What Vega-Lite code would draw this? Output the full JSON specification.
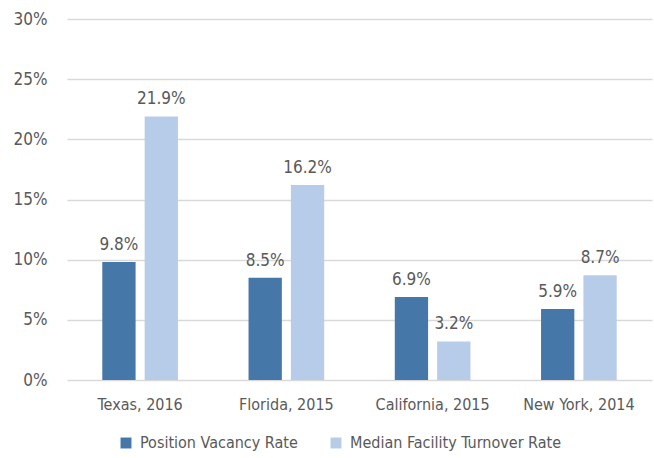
{
  "$schema": "https://vega.github.io/schema/vega-lite/v6.json",
  "width": 585,
  "height": 361,
  "autosize": "none",
  "padding": {"left": 67, "top": 19, "right": 2, "bottom": 78},
  "background": "white",
  "config": {
    "view": {"stroke": null},
    "font": "DejaVu Sans Condensed, Liberation Sans Narrow, sans-serif"
  },
  "data": {
    "values": [
      {"state": "Texas, 2016", "series": "Position Vacancy Rate", "value": 9.8},
      {"state": "Texas, 2016", "series": "Median Facility Turnover Rate", "value": 21.9},
      {"state": "Florida, 2015", "series": "Position Vacancy Rate", "value": 8.5},
      {"state": "Florida, 2015", "series": "Median Facility Turnover Rate", "value": 16.2},
      {"state": "California, 2015", "series": "Position Vacancy Rate", "value": 6.9},
      {"state": "California, 2015", "series": "Median Facility Turnover Rate", "value": 3.2},
      {"state": "New York, 2014", "series": "Position Vacancy Rate", "value": 5.9},
      {"state": "New York, 2014", "series": "Median Facility Turnover Rate", "value": 8.7}
    ]
  },
  "transform": [
    {"calculate": "format(datum.value, '.1f') + '%'", "as": "label"}
  ],
  "encoding": {
    "x": {
      "field": "state", "type": "nominal", "sort": null,
      "scale": {"paddingInner": 0, "paddingOuter": 0},
      "axis": {"title": null, "labelAngle": 0, "domain": false, "ticks": false,
        "labelFontSize": 16, "labelColor": "#595959", "labelPadding": 16}
    },
    "xOffset": {
      "field": "series", "type": "nominal",
      "sort": ["Position Vacancy Rate", "Median Facility Turnover Rate"],
      "scale": {"paddingInner": 0.214, "paddingOuter": 0.833}
    },
    "y": {
      "field": "value", "type": "quantitative",
      "scale": {"domain": [0, 30]},
      "axis": {"title": null, "values": [0, 5, 10, 15, 20, 25, 30],
        "labelExpr": "datum.value + '%'", "domain": false, "ticks": false,
        "gridColor": "#d9d9d9", "gridWidth": 1.5,
        "labelFontSize": 17, "labelColor": "#595959", "labelPadding": 20}
    }
  },
  "layer": [
    {
      "mark": {"type": "bar"},
      "encoding": {
        "color": {
          "field": "series", "type": "nominal",
          "sort": ["Position Vacancy Rate", "Median Facility Turnover Rate"],
          "scale": {"domain": ["Position Vacancy Rate", "Median Facility Turnover Rate"], "range": ["#4577A8", "#B7CCE8"]},
          "legend": {
            "title": null, "orient": "none", "direction": "horizontal",
            "legendX": 51, "legendY": 416,
            "symbolType": "square", "symbolSize": 120, "symbolStrokeWidth": 0,
            "labelFontSize": 16, "labelColor": "#595959", "labelOffset": 6,
            "labelLimit": 0, "columnPadding": 30
          }
        }
      }
    },
    {
      "mark": {"type": "text", "baseline": "bottom", "dy": -8, "fontSize": 17, "color": "#595959"},
      "encoding": {
        "text": {"field": "label", "type": "nominal"},
        "detail": {"field": "series"}
      }
    }
  ]
}
